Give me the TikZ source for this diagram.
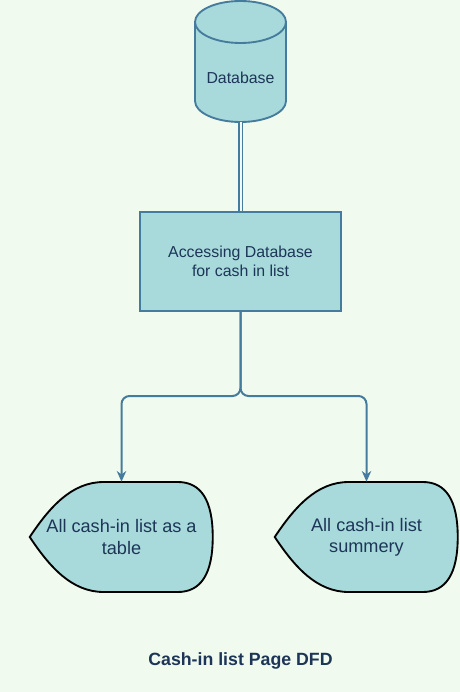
\documentclass[tikz,border=0pt]{standalone}
\usepackage{fontspec}
\setmainfont{Liberation Sans}
\usetikzlibrary{arrows.meta,backgrounds}
\definecolor{bgc}{HTML}{F1FAEE}
\definecolor{fillc}{HTML}{A8DADC}
\definecolor{strokec}{HTML}{457B9D}
\definecolor{textc}{HTML}{1D3557}
\tikzset{
  lbl/.style={text=textc, align=center, inner sep=0pt, font=\fontsize{11.9}{14.3}\selectfont},
  biglbl/.style={text=textc, align=center, inner sep=0pt, font=\fontsize{13.6}{15.8}\selectfont},
  boxnode/.style={draw=strokec, fill=fillc, line width=1.5pt, minimum width=201*0.75pt, minimum height=99*0.75pt, inner sep=0pt},
  dispnode/.style={minimum width=183*0.75pt, minimum height=110*0.75pt, inner sep=0pt},
  cylnode/.style={minimum width=91*0.75pt, minimum height=121*0.75pt, inner sep=0pt},
  dispstyle/.style={draw=black, fill=fillc, line width=1.4pt},
  cylstyle/.style={draw=strokec, fill=fillc, line width=1.4pt},
  flow/.style={draw=strokec, line width=1.5pt, rounded corners=6pt, -{Stealth[length=8pt,width=7pt,inset=2.5pt]}},
  dbl/.style={draw=strokec, line width=1.3pt, double=bgc, double distance=1.5pt},
}
\newcommand\dispshape[1]{%
  \path[dispstyle, shift={(#1.west)}] (0,0) .. controls (20,-30) and (42,-55) .. (74,-55) -- (148,-55)
    .. controls (171.3,-55) and (183,-36.7) .. (183,0)
    .. controls (183,36.7) and (171.3,55) .. (148,55) -- (74,55)
    .. controls (42,55) and (20,30) .. (0,0) -- cycle;}
\begin{document}
\begin{tikzpicture}[x=0.75pt, y=-0.75pt]
\begin{scope}[on background layer]
  \fill[bgc] (0,0) rectangle (460,692);
\end{scope}
\useasboundingbox (0,0) rectangle (460,692);

% cylinder
\node[cylnode] (db) at (240.5,61.5) {};
\begin{scope}[on background layer]
  \path[cylstyle] (195,22) -- (195,101) arc[start angle=180, end angle=0, x radius=45.5, y radius=21]
    -- (286,22) arc[start angle=0, end angle=-180, x radius=45.5, y radius=21] -- cycle;
  \draw[cylstyle, fill=none] (195,22) arc[start angle=180, end angle=0, x radius=45.5, y radius=21];
\end{scope}
\node[lbl] (dbt) at (240.5,78) {Database};

% process
\node[boxnode, lbl] (acc) at (240.5,261.5) {Accessing Database\\ for cash in list};

% displays
\node[dispnode, biglbl] (a1) at (121.5,537) {All cash-in list as a\\table};
\node[dispnode, biglbl] (a2) at (366.5,537) {All cash-in list\\summery};
\begin{scope}[on background layer]
  \dispshape{a1}
  \dispshape{a2}
\end{scope}

% connectors
\draw[dbl] (db.south) -- (acc.north);
\draw[flow] (acc.south) -- ++(0,84) -| (a1.north);
\draw[flow] (acc.south) -- ++(0,84) -| (a2.north);

% title
\node[text=textc, inner sep=0pt, font=\fontsize{13.3}{15}\selectfont\bfseries] (title) at (240.5,661) {Cash-in list Page DFD};
\end{tikzpicture}
\end{document}
